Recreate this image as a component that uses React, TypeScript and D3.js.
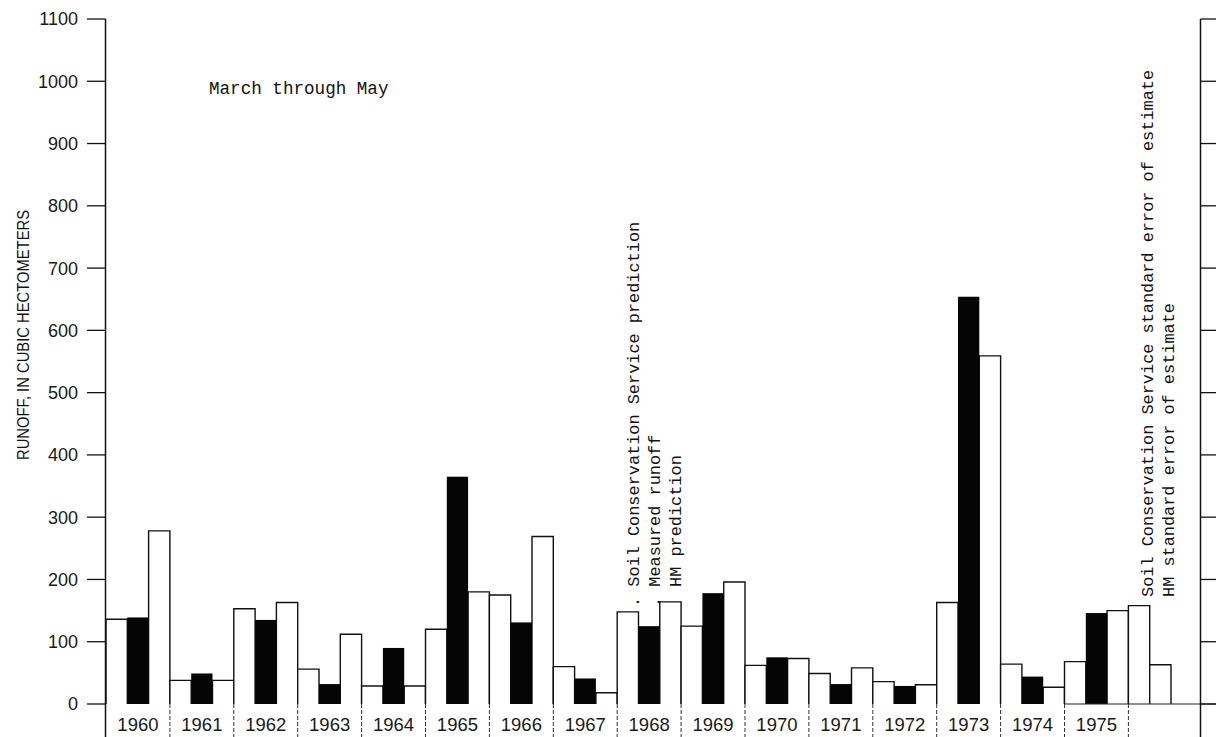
import * as d3 from 'd3';
import React, { ReactElement, useEffect, useRef } from 'react';

const WIDTH = 1216;
const HEIGHT = 737;

// runoff, March through May, in cubic hectometres
const years = ['1960', '1961', '1962', '1963', '1964', '1965', '1966', '1967', '1968', '1969', '1970', '1971', '1972', '1973', '1974', '1975'];
const scsPrediction = [136, 38, 153, 56, 29, 120, 175, 60, 148, 125, 62, 49, 36, 163, 64, 68];
const measuredRunoff = [139, 49, 135, 32, 90, 365, 131, 41, 125, 178, 75, 32, 29, 654, 44, 146];
const hmPrediction = [278, 38, 163, 112, 29, 180, 269, 18, 164, 196, 73, 58, 31, 559, 27, 150];
const standardErrors = [158, 63]; // SCS, HM
const yTickValues = [0, 100, 200, 300, 400, 500, 600, 700, 800, 900, 1000, 1100];

const seriesKeys = ['scs', 'measured', 'hm'];
const legendLabels = ['. Soil Conservation Service prediction', '. Measured runoff', 'HM prediction'];
const errorLabels = ['Soil Conservation Service standard error of estimate', 'HM standard error of estimate'];

const MONO = "'Liberation Mono', 'DejaVu Sans Mono', monospace";
const SANS = "'Liberation Sans', Arial, sans-serif";

const RunoffChart = (): ReactElement => {
  const svgRef = useRef(null);

  useEffect(() => {
    const svg = d3.select(svgRef.current);
    svg.selectAll('*').remove();

    const groups = [...years, 'SE'];
    const y = d3.scaleLinear().domain([0, 1100]).range([704, 19]);
    const x0 = d3.scaleBand().domain(groups).range([106, 106 + 17 * 63.9]).padding(0);
    const x1 = d3.scaleBand().domain(seriesKeys).range([0, x0.bandwidth()]).padding(0);

    const leftX = 105.5;
    const rightX = 1200.5;

    svg.append('rect').attr('width', WIDTH).attr('height', HEIGHT).attr('fill', '#fff');

    // bars
    const bars = [];
    years.forEach((yr, i) => {
      bars.push({ group: yr, key: 'scs', value: scsPrediction[i], dark: false });
      bars.push({ group: yr, key: 'measured', value: measuredRunoff[i], dark: true });
      bars.push({ group: yr, key: 'hm', value: hmPrediction[i], dark: false });
    });
    standardErrors.forEach((v, i) => {
      bars.push({ group: 'SE', key: seriesKeys[i], value: v, dark: false });
    });

    const g = svg.append('g');
    g.selectAll('path.open')
      .data(bars.filter((d) => !d.dark))
      .enter()
      .append('path')
      .attr('class', 'open')
      .attr('d', (d) => {
        const x = x0(d.group) + x1(d.key);
        const w = x1.bandwidth();
        return `M${x},${y(0)}V${y(d.value)}H${x + w}V${y(0)}`;
      })
      .attr('fill', '#fff')
      .attr('stroke', '#111')
      .attr('stroke-width', 1.4);

    g.selectAll('rect.dark')
      .data(bars.filter((d) => d.dark))
      .enter()
      .append('rect')
      .attr('class', 'dark')
      .attr('x', (d) => x0(d.group) + x1(d.key))
      .attr('width', x1.bandwidth())
      .attr('y', (d) => y(d.value))
      .attr('height', (d) => y(0) - y(d.value))
      .attr('fill', '#050505');

    // baseline, only drawn on the right end
    svg.append('line')
      .attr('x1', x0('1975')).attr('x2', WIDTH)
      .attr('y1', y(0)).attr('y2', y(0))
      .attr('stroke', '#222').attr('stroke-width', 1.2);

    // group separators under the baseline
    svg.selectAll('line.sep')
      .data(groups.slice(1))
      .enter()
      .append('line')
      .attr('class', 'sep')
      .attr('x1', (d) => x0(d)).attr('x2', (d) => x0(d))
      .attr('y1', y(0)).attr('y2', HEIGHT)
      .attr('stroke', '#333')
      .attr('stroke-width', 1)
      .attr('stroke-dasharray', '4,2');

    // year labels
    svg.selectAll('text.year')
      .data(years)
      .enter()
      .append('text')
      .attr('class', 'year')
      .attr('x', (d) => x0(d) + x0.bandwidth() / 2)
      .attr('y', 731)
      .attr('text-anchor', 'middle')
      .attr('font-family', SANS)
      .attr('font-size', 18.5)
      .attr('fill', '#1a1a1a')
      .text((d) => d);

    // left axis
    svg.append('line')
      .attr('x1', leftX).attr('x2', leftX)
      .attr('y1', y(1100)).attr('y2', HEIGHT)
      .attr('stroke', '#111').attr('stroke-width', 1.5);
    svg.selectAll('line.ltick')
      .data(yTickValues)
      .enter()
      .append('line')
      .attr('class', 'ltick')
      .attr('x1', 87).attr('x2', leftX)
      .attr('y1', (d) => y(d)).attr('y2', (d) => y(d))
      .attr('stroke', '#111').attr('stroke-width', 1.3);
    svg.selectAll('text.ylab')
      .data(yTickValues)
      .enter()
      .append('text')
      .attr('class', 'ylab')
      .attr('x', 78)
      .attr('y', (d) => y(d))
      .attr('dy', '0.36em')
      .attr('text-anchor', 'end')
      .attr('font-family', SANS)
      .attr('font-size', 18)
      .attr('fill', '#1a1a1a')
      .text((d) => d);

    // right axis
    svg.append('line')
      .attr('x1', rightX).attr('x2', rightX)
      .attr('y1', y(1100)).attr('y2', HEIGHT)
      .attr('stroke', '#111').attr('stroke-width', 1.5);
    svg.selectAll('line.rtick')
      .data(yTickValues)
      .enter()
      .append('line')
      .attr('class', 'rtick')
      .attr('x1', rightX).attr('x2', WIDTH)
      .attr('y1', (d) => y(d)).attr('y2', (d) => y(d))
      .attr('stroke', '#111').attr('stroke-width', 1.3);

    // axis title
    svg.append('text')
      .attr('transform', 'translate(23,335) rotate(-90)')
      .attr('text-anchor', 'middle')
      .attr('dominant-baseline', 'central')
      .attr('font-family', SANS)
      .attr('font-size', 16.5)
      .attr('textLength', 250)
      .attr('lengthAdjust', 'spacingAndGlyphs')
      .attr('fill', '#111')
      .text('RUNOFF, IN CUBIC HECTOMETERS');

    svg.append('text')
      .attr('x', 209)
      .attr('y', 94)
      .attr('font-family', MONO)
      .attr('font-size', 17.6)
      .attr('fill', '#111')
      .text('March through May');

    // legend on the 1968 group
    const legendStart = [607, 607, 587];
    seriesKeys.forEach((k, i) => {
      const bx = x0('1968') + x1(k) + x1.bandwidth();
      svg.append('text')
        .attr('transform', `translate(${bx},${legendStart[i]}) rotate(-90)`)
        .attr('font-family', MONO)
        .attr('font-size', 16.9)
        .attr('fill', '#111')
        .text(legendLabels[i]);
    });

    // standard error labels
    errorLabels.forEach((label, i) => {
      const bx = x0('SE') + x1(seriesKeys[i]) + x1.bandwidth() + 3;
      svg.append('text')
        .attr('transform', `translate(${bx},597) rotate(-90)`)
        .attr('font-family', MONO)
        .attr('font-size', 16.9)
        .attr('fill', '#111')
        .text(label);
    });

    return () => {
      svg.selectAll('*').remove();
    };
  }, []);

  return (
    <svg
      ref={svgRef}
      width={WIDTH}
      height={HEIGHT}
      style={{ position: 'absolute', left: 0, top: 0, display: 'block' }}
    />
  );
};

const App = (): ReactElement => <RunoffChart />;

export default App;
